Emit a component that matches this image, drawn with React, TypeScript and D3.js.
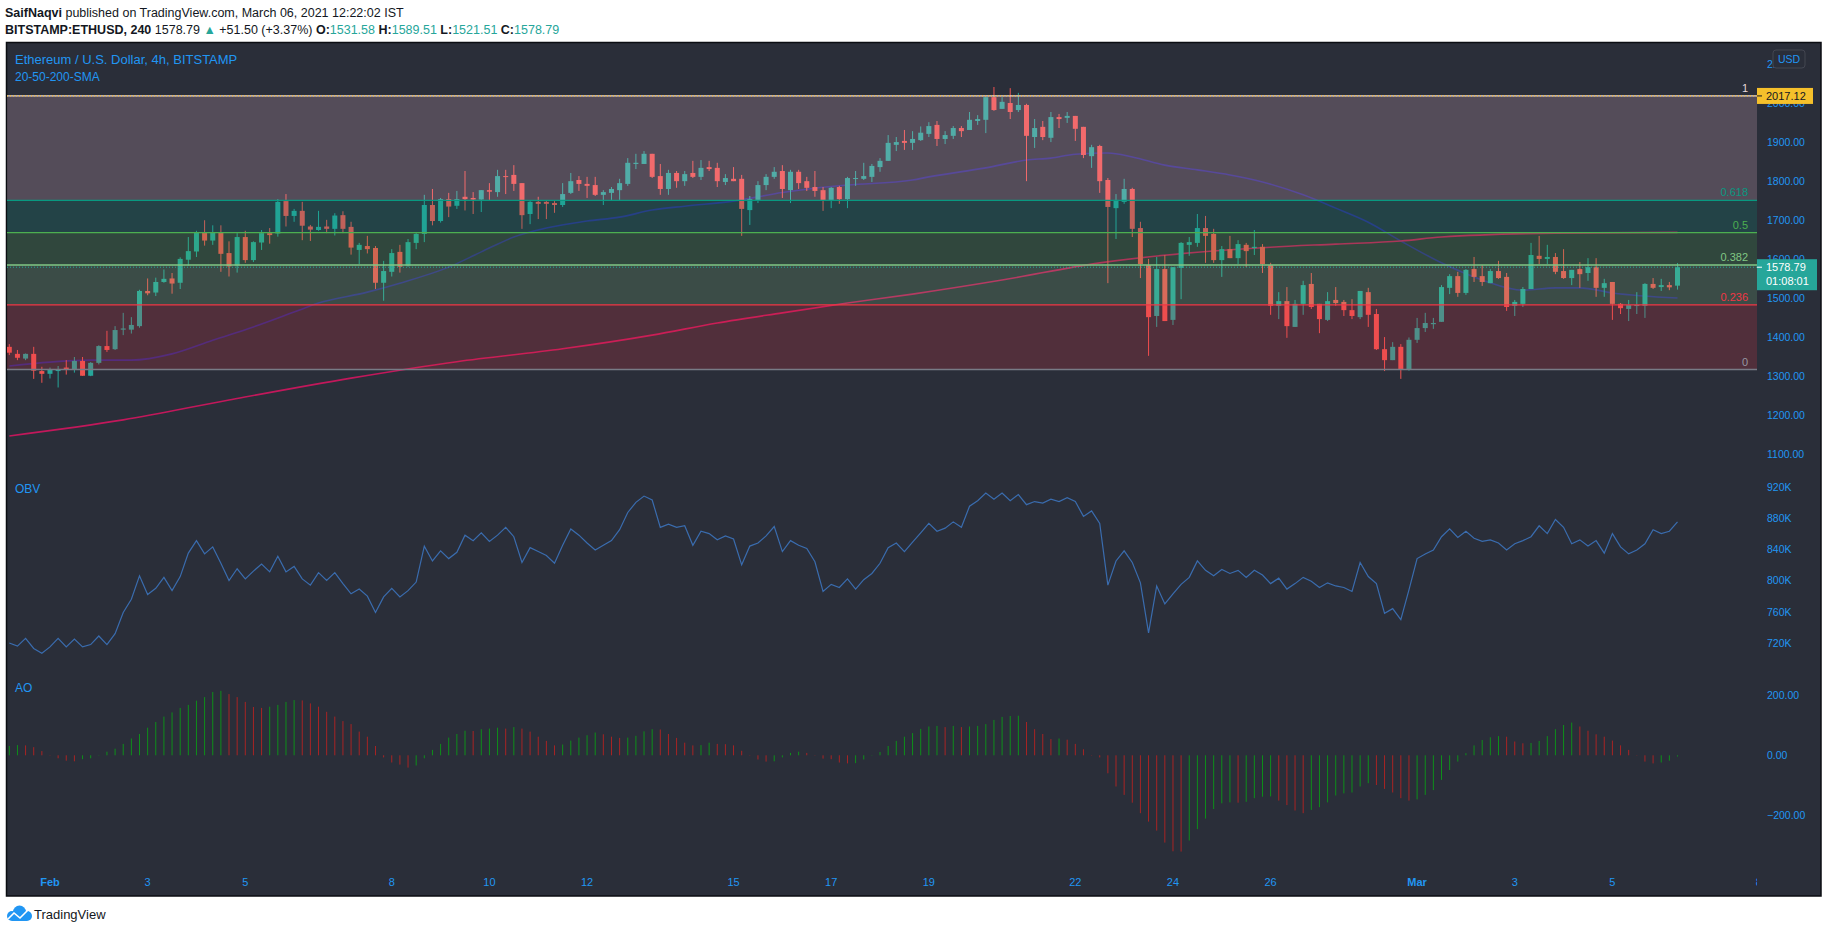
import React, { useEffect } from "react";
import * as d3 from "d3";

// BITSTAMP:ETHUSD 4h candles, first bar Jan 31 2021 00:00 UTC
const candleOpen = [
  1375, 1357, 1345, 1357, 1313, 1306, 1313, 1322, 1318, 1339,
  1301, 1334, 1377, 1369, 1419, 1419, 1428, 1518, 1514, 1541,
  1550, 1539, 1598, 1619, 1668, 1647, 1668, 1615, 1583, 1656,
  1597, 1642, 1666, 1665, 1748, 1710, 1723, 1683, 1674, 1683,
  1677, 1712, 1682, 1623, 1633, 1628, 1539, 1567, 1618, 1583,
  1641, 1664, 1738, 1697, 1753, 1736, 1759, 1756, 1752, 1776,
  1771, 1812, 1815, 1794, 1715, 1746, 1746, 1743, 1738, 1769,
  1802, 1792, 1789, 1764, 1769, 1776, 1792, 1843, 1843, 1869,
  1812, 1779, 1820, 1799, 1820, 1810, 1835, 1833, 1797, 1805,
  1805, 1725, 1751, 1789, 1810, 1825, 1776, 1823, 1799, 1784,
  1776, 1751, 1784, 1753, 1805, 1805, 1810, 1835, 1851, 1892,
  1902, 1897, 1904, 1920, 1943, 1907, 1915, 1935, 1930, 1953,
  1956, 2014, 1984, 1999, 1981, 1994, 1912, 1938, 1910, 1963,
  1961, 1966, 1938, 1863, 1889, 1802, 1730, 1746, 1779, 1679,
  1584, 1454, 1574, 1444, 1577, 1636, 1641, 1679, 1664, 1597,
  1625, 1602, 1636, 1628, 1631, 1584, 1480, 1492, 1426, 1485,
  1536, 1485, 1444, 1495, 1490, 1469, 1451, 1515, 1459, 1369,
  1341, 1375, 1316, 1393, 1423, 1433, 1439, 1526, 1556, 1513,
  1574, 1556, 1538, 1569, 1554, 1480, 1485, 1523, 1608, 1600,
  1605, 1569, 1551, 1574, 1564, 1579, 1526, 1541, 1485, 1472,
  1480, 1480, 1536, 1528, 1533, 1531.58,
];
const candleHigh = [
  1382, 1367, 1358, 1375, 1324, 1322, 1326, 1341, 1349, 1349,
  1336, 1379, 1416, 1428, 1462, 1451, 1521, 1550, 1552, 1573,
  1564, 1604, 1656, 1672, 1699, 1686, 1686, 1645, 1666, 1672,
  1645, 1674, 1679, 1753, 1766, 1728, 1746, 1687, 1723, 1700,
  1717, 1722, 1695, 1641, 1659, 1633, 1595, 1625, 1636, 1651,
  1666, 1764, 1779, 1756, 1769, 1774, 1825, 1771, 1776, 1794,
  1828, 1828, 1840, 1794, 1748, 1759, 1748, 1748, 1794, 1820,
  1812, 1810, 1810, 1776, 1784, 1805, 1858, 1869, 1876, 1869,
  1843, 1828, 1825, 1825, 1851, 1853, 1851, 1846, 1817, 1835,
  1815, 1761, 1799, 1817, 1835, 1840, 1828, 1828, 1810, 1825,
  1784, 1784, 1787, 1810, 1825, 1846, 1843, 1858, 1917, 1912,
  1930, 1927, 1939, 1950, 1953, 1927, 1940, 1940, 1976, 1968,
  2014, 2040, 2014, 2037, 2025, 1997, 1958, 1953, 1976, 1971,
  1976, 1966, 1938, 1892, 1892, 1807, 1766, 1805, 1782, 1695,
  1600, 1605, 1610, 1579, 1643, 1656, 1715, 1710, 1677, 1633,
  1659, 1648, 1641, 1674, 1638, 1590, 1515, 1528, 1495, 1544,
  1564, 1485, 1515, 1528, 1495, 1497, 1518, 1526, 1472, 1400,
  1387, 1382, 1399, 1449, 1462, 1449, 1533, 1561, 1567, 1574,
  1605, 1584, 1574, 1595, 1564, 1495, 1528, 1641, 1659, 1636,
  1615, 1625, 1572, 1592, 1602, 1602, 1549, 1541, 1487, 1495,
  1515, 1538, 1551, 1549, 1541, 1589.51,
];
const candleLow = [
  1354, 1341, 1341, 1293, 1283, 1294, 1271, 1304, 1309, 1301,
  1300, 1330, 1362, 1367, 1405, 1409, 1424, 1507, 1505, 1539,
  1511, 1523, 1583, 1605, 1634, 1636, 1567, 1555, 1565, 1590,
  1592, 1623, 1639, 1657, 1683, 1695, 1648, 1646, 1672, 1666,
  1660, 1666, 1611, 1587, 1614, 1523, 1493, 1555, 1565, 1580,
  1625, 1643, 1686, 1693, 1707, 1728, 1724, 1715, 1720, 1751,
  1759, 1766, 1774, 1677, 1689, 1702, 1702, 1718, 1733, 1766,
  1774, 1756, 1761, 1738, 1751, 1751, 1787, 1830, 1843, 1807,
  1764, 1764, 1782, 1787, 1807, 1802, 1825, 1784, 1789, 1799,
  1659, 1687, 1743, 1776, 1805, 1756, 1743, 1779, 1774, 1759,
  1723, 1730, 1741, 1730, 1787, 1802, 1797, 1823, 1851, 1876,
  1879, 1879, 1902, 1912, 1889, 1894, 1907, 1912, 1930, 1943,
  1922, 1979, 1984, 1958, 1976, 1799, 1884, 1904, 1899, 1935,
  1948, 1902, 1858, 1833, 1769, 1538, 1651, 1741, 1656, 1551,
  1352, 1426, 1441, 1431, 1497, 1608, 1631, 1590, 1590, 1554,
  1602, 1587, 1579, 1610, 1564, 1457, 1446, 1398, 1426, 1457,
  1472, 1410, 1441, 1480, 1454, 1446, 1446, 1426, 1367, 1313,
  1341, 1293, 1314, 1385, 1413, 1421, 1439, 1510, 1503, 1508,
  1541, 1531, 1538, 1549, 1467, 1454, 1477, 1523, 1587, 1587,
  1561, 1549, 1533, 1526, 1544, 1503, 1503, 1444, 1459, 1441,
  1459, 1449, 1523, 1518, 1520, 1521.51,
];
const candleClose = [
  1360, 1347, 1357, 1314, 1306, 1318, 1317, 1318, 1339, 1301,
  1334, 1377, 1367, 1418, 1422, 1431, 1518, 1512, 1541, 1549,
  1537, 1600, 1620, 1668, 1647, 1668, 1613, 1581, 1656, 1597,
  1643, 1666, 1661, 1746, 1710, 1723, 1685, 1675, 1682, 1677,
  1711, 1677, 1629, 1636, 1625, 1539, 1569, 1615, 1580, 1643,
  1664, 1738, 1697, 1753, 1734, 1753, 1753, 1752, 1776, 1772,
  1812, 1810, 1792, 1712, 1746, 1741, 1741, 1738, 1766, 1799,
  1792, 1787, 1764, 1771, 1779, 1794, 1846, 1846, 1869, 1810,
  1779, 1820, 1799, 1817, 1810, 1833, 1830, 1799, 1807, 1799,
  1728, 1753, 1789, 1810, 1823, 1779, 1823, 1794, 1782, 1774,
  1751, 1782, 1753, 1807, 1807, 1812, 1838, 1851, 1897, 1899,
  1897, 1907, 1923, 1940, 1907, 1917, 1935, 1927, 1956, 1958,
  2014, 1981, 2002, 1976, 1994, 1915, 1935, 1912, 1963, 1958,
  1966, 1933, 1866, 1886, 1799, 1733, 1751, 1779, 1677, 1587,
  1451, 1574, 1441, 1579, 1641, 1643, 1679, 1659, 1597, 1625,
  1602, 1638, 1620, 1631, 1587, 1480, 1492, 1428, 1485, 1533,
  1477, 1446, 1492, 1487, 1469, 1454, 1518, 1457, 1369, 1341,
  1375, 1317, 1393, 1423, 1436, 1436, 1528, 1556, 1513, 1572,
  1554, 1541, 1569, 1551, 1477, 1490, 1523, 1610, 1600, 1605,
  1567, 1551, 1572, 1561, 1579, 1526, 1538, 1485, 1474, 1482,
  1482, 1536, 1526, 1533, 1527.29, 1578.79,
];

// On Balance Volume, thousands
const obvK = [
  720, 716, 726, 713, 707, 715, 726, 715, 725, 715,
  718, 729, 718, 732, 759, 776, 806, 782, 790, 804,
  787, 805, 835, 851, 834, 843, 822, 800, 815, 802,
  812, 821, 811, 831, 811, 818, 802, 794, 810, 800,
  810, 796, 783, 789, 780, 759, 779, 790, 779, 787,
  798, 844, 825, 838, 828, 836, 858, 851, 861, 850,
  858, 868, 856, 823, 842, 837, 832, 822, 845, 866,
  858, 848, 839, 845, 851, 865, 887, 900, 908, 903,
  868, 872, 868, 870, 845, 863, 860, 852, 857, 853,
  820, 844, 848, 857, 869, 837, 851, 845, 841, 824,
  786, 795, 791, 802, 789, 801, 809, 822, 842, 848,
  837, 849, 861, 873, 863, 867, 875, 868, 895, 902,
  912, 904, 912, 902, 910, 897, 901, 899, 904, 901,
  906, 901, 882, 889, 873, 794, 825, 838, 823, 797,
  733, 793, 770, 783, 795, 804, 825, 813, 806, 814,
  809, 813, 804, 813, 807, 796, 803, 789, 796, 804,
  799, 791, 797, 793, 791, 786, 823, 805, 796, 758,
  764, 750, 788, 828, 834, 839, 856, 866, 855, 863,
  854, 850, 852, 848, 839, 847, 851, 856, 870, 860,
  878, 868, 847, 852, 844, 851, 835, 860, 843, 834,
  839, 847, 865, 860, 863, 875,
];

// Awesome Oscillator
const aoValues = [
  31, 34, 33, 27, 14, 1, -10, -18, -20, -13,
  -10, 1, 12, 22, 38, 56, 71, 92, 111, 129,
  143, 158, 168, 182, 194, 211, 215, 204, 194, 178,
  161, 158, 162, 168, 178, 184, 183, 173, 162, 145,
  129, 114, 104, 79, 62, 31, -7, -24, -31, -41,
  -34, -10, 18, 38, 59, 71, 82, 81, 87, 89,
  92, 89, 94, 89, 79, 62, 48, 33, 36, 49,
  59, 67, 76, 70, 62, 58, 59, 65, 80, 87,
  86, 71, 58, 42, 33, 34, 42, 38, 37, 33,
  15, 1, -14, -21, -20, -7, 8, 12, 8, 1,
  -11, -13, -24, -27, -26, -14, 1, 11, 31, 48,
  62, 74, 88, 96, 98, 94, 98, 94, 96, 98,
  104, 118, 128, 131, 132, 111, 87, 71, 54, 56,
  52, 38, 20, 1, -7, -60, -104, -132, -158, -193,
  -221, -251, -291, -320, -321, -284, -246, -211, -179, -160,
  -157, -158, -155, -143, -138, -137, -151, -166, -184, -193,
  -182, -173, -157, -134, -127, -124, -104, -93, -99, -112,
  -124, -143, -151, -147, -132, -116, -82, -49, -21, 7,
  33, 51, 60, 64, 62, 46, 40, 41, 48, 64,
  87, 101, 109, 96, 82, 70, 62, 49, 33, 18,
  1, -21, -27, -24, -18, -4,
];

// SMA lines read at bar index / price
const sma50Points = [
  [0, 1326], [5, 1336], [10, 1341], [15, 1341], [20, 1357], [25, 1392],
  [30, 1426], [35, 1464], [38, 1487], [44, 1515], [48, 1538], [54, 1579],
  [58, 1618], [62, 1656], [66, 1679], [71, 1697], [75, 1707], [79, 1725],
  [83, 1735], [89, 1748], [95, 1770], [99, 1781], [103, 1789], [111, 1802],
  [113, 1810], [120, 1833], [125, 1853], [128, 1858], [131, 1868], [135, 1871],
  [138, 1861], [142, 1840], [146, 1828], [150, 1815], [154, 1797], [159, 1764],
  [163, 1730], [167, 1694], [171, 1646], [176, 1590], [181, 1546], [186, 1520],
  [190, 1526], [193, 1526], [197, 1513], [205, 1500],
];
const sma200Points = [
  [0, 1147], [14, 1188], [27, 1239], [42, 1295], [55, 1337], [68, 1370],
  [79, 1405], [87, 1436], [95, 1462], [103, 1487], [111, 1510], [122, 1546],
  [134, 1590], [146, 1617], [155, 1630], [163, 1638], [171, 1646], [176, 1656],
  [190, 1666], [205, 1668],
];

const priceTicks = [1100, 1200, 1300, 1400, 1500, 1600, 1700, 1800, 1900, 2000, 2100];
const obvTicks = [720, 760, 800, 840, 880, 920];
const aoTicks = [-200, 0, 200];
const timeTicks = [
  { label: "Feb", day: "2021-02-01", bold: true },
  { label: "3", day: "2021-02-03" },
  { label: "5", day: "2021-02-05" },
  { label: "8", day: "2021-02-08" },
  { label: "10", day: "2021-02-10" },
  { label: "12", day: "2021-02-12" },
  { label: "15", day: "2021-02-15" },
  { label: "17", day: "2021-02-17" },
  { label: "19", day: "2021-02-19" },
  { label: "22", day: "2021-02-22" },
  { label: "24", day: "2021-02-24" },
  { label: "26", day: "2021-02-26" },
  { label: "Mar", day: "2021-03-01", bold: true },
  { label: "3", day: "2021-03-03" },
  { label: "5", day: "2021-03-05" },
  { label: "8", day: "2021-03-08" },
];

const fibLevels = [0, 0.236, 0.382, 0.5, 0.618, 1];
const fibNames = ["0", "0.236", "0.382", "0.5", "0.618", "1"];
const fibColors = ["#787b86", "#f23645", "#81c784", "#4caf50", "#089981", "#ffc8de"];
const fibLow = 1317;
const fibHigh = 2017.12;

const BG = "#2a2e39";
const BLUE = "#2196f3";
const TEAL = "#26a69a";
const FONT = "'Liberation Sans', Arial, sans-serif";

export default function App() {
  useEffect(() => {
    document.body.style.margin = "0";
  }, []);

  const N = candleClose.length;
  const left = 7;
  const right = 1757;
  const axisX = 1767;

  const x = d3.scaleLinear().domain([0, N - 1]).range([9.3, 1677.5]);
  const t0 = Date.UTC(2021, 0, 31, 0, 0);
  const step = 4 * 3600 * 1000;
  const xTime = d3
    .scaleUtc()
    .domain([new Date(t0), new Date(t0 + (N - 1) * step)])
    .range([9.3, 1677.5]);
  const yPrice = d3.scaleLinear().domain([1100, 1900]).range([454.3, 141.7]);
  const yObv = d3.scaleLinear().domain([720, 920]).range([643, 486.7]);
  const yAo = d3.scaleLinear().domain([-200, 200]).range([815.3, 695.3]);

  const smaLine = d3
    .line<number[]>()
    .x((d) => x(d[0]))
    .y((d) => yPrice(d[1]))
    .curve(d3.curveMonotoneX);
  const obvLine = d3
    .line<number>()
    .x((d, i) => x(i))
    .y((d) => yObv(d));

  const fibPrice = (l: number) => fibLow + l * (fibHigh - fibLow);

  const last = N - 1;
  const lastClose = candleClose[last];
  const change = lastClose - candleClose[last - 1];
  const pct = (change / candleClose[last - 1]) * 100;
  const fmt = d3.format(".2f");
  const yLast = yPrice(lastClose);
  const yTop = yPrice(fibHigh);

  return (
    <svg
      width={1828}
      height={933}
      style={{ position: "absolute", left: 0, top: 0, background: "#fff" }}
      fontFamily={FONT}
    >
      <defs>
        <clipPath id="pricePane">
          <rect x={left} y={43} width={right - left} height={425} />
        </clipPath>
        <clipPath id="timeAxis">
          <rect x={left} y={862} width={right - left} height={33} />
        </clipPath>
      </defs>

      {/* header */}
      <text x={5} y={16.5} fontSize={12.5} fill="#131722">
        <tspan fontWeight="bold">SaifNaqvi</tspan>
        <tspan> published on TradingView.com, March 06, 2021 12:22:02 IST</tspan>
      </text>
      <text x={5} y={34} fontSize={12.5} fill="#131722">
        <tspan fontWeight="bold">BITSTAMP:ETHUSD, 240</tspan>
        <tspan>{" " + fmt(lastClose) + " "}</tspan>
        <tspan fill={TEAL}>▲</tspan>
        <tspan>{" +" + fmt(change) + " (+" + fmt(pct) + "%) "}</tspan>
        <tspan fontWeight="bold">O:</tspan>
        <tspan fill={TEAL}>{fmt(candleOpen[last]) + " "}</tspan>
        <tspan fontWeight="bold">H:</tspan>
        <tspan fill={TEAL}>{fmt(candleHigh[last]) + " "}</tspan>
        <tspan fontWeight="bold">L:</tspan>
        <tspan fill={TEAL}>{fmt(candleLow[last]) + " "}</tspan>
        <tspan fontWeight="bold">C:</tspan>
        <tspan fill={TEAL}>{fmt(lastClose)}</tspan>
      </text>

      {/* chart frame */}
      <rect x={6.5} y={42.5} width={1814.5} height={853.5} fill={BG} stroke="#0b0d12" strokeWidth={1.5} />

      <g clipPath="url(#pricePane)">
        {/* moving averages */}
        <path d={smaLine(sma50Points) || ""} fill="none" stroke="#2e2a8a" strokeWidth={1.6} />
        <path d={smaLine(sma200Points) || ""} fill="none" stroke="#c2185b" strokeWidth={1.6} />

        {/* candles */}
        {candleClose.map((c, i) => {
          const o = candleOpen[i];
          const up = c >= o;
          const col = up ? TEAL : "#ef5350";
          const yT = yPrice(Math.max(o, c));
          const yB = yPrice(Math.min(o, c));
          const cx = x(i);
          return (
            <g key={i}>
              <line x1={cx} x2={cx} y1={yPrice(candleHigh[i])} y2={yPrice(candleLow[i])} stroke={col} strokeWidth={1} />
              <rect x={cx - 2.5} y={yT} width={5} height={Math.max(1, yB - yT)} fill={col} />
            </g>
          );
        })}

        {/* fib retracement fills over the candles */}
        {fibLevels.slice(1).map((l, k) => {
          const y1 = yPrice(fibPrice(l));
          const y0 = yPrice(fibPrice(fibLevels[k]));
          return (
            <rect key={l} x={left} y={y1} width={right - left} height={y0 - y1} fill={fibColors[k + 1]} fillOpacity={0.2} />
          );
        })}
        {fibLevels.map((l, k) => {
          const yy = yPrice(fibPrice(l));
          return (
            <g key={l}>
              <line x1={left} x2={right} y1={yy} y2={yy} stroke={l === 1 ? "#e8dcd8" : fibColors[k]} strokeWidth={1.3} />
              <text x={right - 9} y={yy - 4} fontSize={11} textAnchor="end" fill={l === 1 ? "#e6d8d8" : l === 0 ? "#9598a1" : fibColors[k]}>
                {fibNames[k]}
              </text>
            </g>
          );
        })}
        <line x1={left} x2={right} y1={yTop} y2={yTop} stroke="#f5b731" strokeWidth={1.3} strokeDasharray="1 2" />

        {/* last price line */}
        <line x1={left} x2={right} y1={yLast} y2={yLast} stroke={TEAL} strokeWidth={1} strokeDasharray="1 2" />
      </g>

      {/* price axis */}
      {priceTicks.map((p) => (
        <text key={p} x={axisX} y={yPrice(p) + 4} fontSize={10.5} fill={BLUE}>
          {fmt(p)}
        </text>
      ))}
      <rect x={1773} y={50} width={32} height={18} rx={3} fill={BG} stroke="#434651" />
      <text x={1789} y={63} fontSize={10.5} fill={BLUE} textAnchor="middle">USD</text>

      <rect x={right} y={yTop - 8} width={56} height={16} fill="#f5c02b" />
      <line x1={right} x2={right + 5} y1={yTop} y2={yTop} stroke="#131722" />
      <text x={axisX - 1} y={yTop + 4} fontSize={11} fill="#131722">{fmt(fibHigh)}</text>

      <rect x={right} y={yLast - 8} width={60} height={31} fill={TEAL} />
      <line x1={right} x2={right + 5} y1={yLast} y2={yLast} stroke="#fff" />
      <text x={axisX - 1} y={yLast + 4} fontSize={11} fill="#fff">{fmt(lastClose)}</text>
      <text x={axisX - 1} y={yLast + 18} fontSize={11} fill="#fff">01:08:01</text>

      <text x={15} y={64} fontSize={13} fill={BLUE}>Ethereum / U.S. Dollar, 4h, BITSTAMP</text>
      <text x={15} y={81} fontSize={12} fill={BLUE}>20-50-200-SMA</text>

      {/* OBV pane */}
      <text x={15} y={493} fontSize={12} fill={BLUE}>OBV</text>
      <path d={obvLine(obvK) || ""} fill="none" stroke="#3a6cae" strokeWidth={1.2} />
      {obvTicks.map((v) => (
        <text key={v} x={axisX} y={yObv(v) + 4} fontSize={10.5} fill={BLUE}>
          {v + "K"}
        </text>
      ))}

      {/* AO pane */}
      <text x={15} y={692} fontSize={12} fill={BLUE}>AO</text>
      {aoValues.map((v, i) => {
        const up = i === 0 || v > aoValues[i - 1];
        return (
          <line
            key={i}
            x1={x(i)}
            x2={x(i)}
            y1={yAo(0)}
            y2={yAo(v)}
            stroke={up ? "#0e8f1a" : "#a82424"}
            strokeWidth={1}
          />
        );
      })}
      {aoTicks.map((v) => (
        <text key={v} x={axisX} y={yAo(v) + 4} fontSize={10.5} fill={BLUE}>
          {fmt(v)}
        </text>
      ))}

      {/* time axis, labels sit on the first 4h bar of each IST day */}
      <g clipPath="url(#timeAxis)">
        {timeTicks.map((t, k) => (
          <text
            key={k}
            x={xTime(new Date(t.day + "T01:30:00+05:30"))}
            y={886}
            fontSize={11}
            fontWeight={t.bold ? "bold" : "normal"}
            textAnchor="middle"
            fill={BLUE}
          >
            {t.label}
          </text>
        ))}
      </g>

      {/* footer logo */}
      <g>
        <circle cx={12} cy={916} r={5} fill={BLUE} />
        <circle cx={19.5} cy={912} r={6.5} fill={BLUE} />
        <circle cx={27} cy={916} r={5} fill={BLUE} />
        <rect x={12} y={915} width={15} height={6} fill={BLUE} />
        <polyline points="8,919 14,913 20,918 28,910" fill="none" stroke="#fff" strokeWidth={1.6} />
        <text x={34} y={919} fontSize={13} fill="#131722">TradingView</text>
      </g>
    </svg>
  );
}
